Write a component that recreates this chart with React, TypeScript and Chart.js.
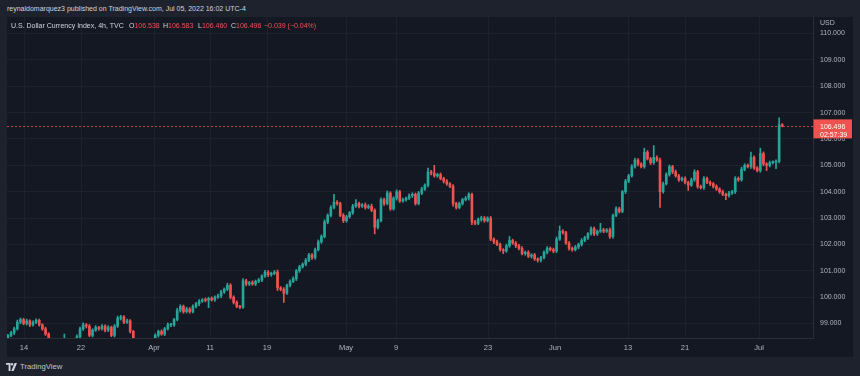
import React, { useEffect, useRef } from 'react';
import { Chart, registerables } from 'chart.js';

Chart.register(...registerables);

// ---------- data ----------
const firstOpen = 98.45;

const closes = [
  98.55, 98.65, 98.80, 99.05, 99.15, 99.00, 99.10, 98.95, 99.05, 99.12,
  98.95, 98.80, 98.60, 98.40, 98.15, 97.95, 97.80, 97.90, 98.20, 98.10,
  98.00, 98.20, 98.50, 98.80, 98.95, 98.90, 98.55, 98.75, 98.85, 98.80,
  98.90, 98.75, 98.85, 98.55, 98.90, 99.20, 99.25, 99.05, 99.10, 98.70,
  98.30, 98.00, 97.80, 97.75, 97.90, 98.10, 98.30, 98.55, 98.70, 98.60,
  98.80, 98.95, 98.95, 99.15, 99.50, 99.65, 99.45, 99.55, 99.45, 99.65,
  99.75, 99.85, 99.90, 99.88, 99.95, 99.90, 100.00, 100.05, 100.20, 100.30,
  100.45, 100.00, 99.80, 99.65, 99.62, 100.62, 100.50, 100.55, 100.50, 100.60,
  100.65, 100.80, 100.95, 100.85, 100.90, 100.95, 100.35, 100.30, 100.15, 100.45,
  100.60, 100.70, 101.00, 101.15, 101.25, 101.40, 101.60, 101.50, 101.80, 102.10,
  102.30, 102.85, 103.10, 103.40, 103.60, 103.55, 103.10, 102.90, 103.05, 103.20,
  103.45, 103.55, 103.45, 103.50, 103.40, 103.45, 103.30, 102.65, 102.90, 103.70,
  103.55, 103.95, 103.35, 103.75, 104.00, 103.65, 103.70, 103.75, 103.85, 103.90,
  103.55, 103.95, 104.10, 104.25, 104.75, 104.70, 104.60, 104.65, 104.50, 104.40,
  104.30, 104.20, 103.55, 103.40, 103.55, 103.70, 103.75, 103.90, 102.85, 102.80,
  102.95, 103.00, 102.90, 103.00, 102.20, 102.10, 102.00, 101.80, 101.75, 101.95,
  102.15, 102.05, 101.95, 101.85, 101.65, 101.70, 101.55, 101.60, 101.45, 101.40,
  101.50, 101.70, 101.85, 101.80, 101.75, 102.20, 102.50, 102.45, 102.05, 101.85,
  101.80, 101.90, 102.00, 102.15, 102.25, 102.40, 102.60, 102.40, 102.50, 102.55,
  102.50, 102.55, 102.30, 103.10, 103.35, 103.25, 104.00, 104.40, 104.60, 104.95,
  105.20, 105.05, 104.95, 105.50, 105.25, 105.10, 105.30, 105.20, 104.00, 104.30,
  104.65, 104.95, 104.75, 104.60, 104.45, 104.50, 104.35, 104.25, 104.45, 104.75,
  104.20, 104.15, 104.50, 104.35, 104.30, 104.20, 104.10, 104.00, 103.90, 103.85,
  103.95, 104.00, 104.50, 104.45, 104.85, 105.00, 104.95, 105.30, 104.90, 104.80,
  105.45, 105.05, 105.00, 105.10, 105.12, 105.15, 106.538, 106.496,
];

const upperWicks = [
  .04, .05, .06, .08, .06, .05, .07, .04, .05, .06,
  .05, .04, .06, .05, .04, .06, .05, .07, .40, .05,
  .06, .05, .07, .06, .08, .05, .06, .05, .07, .04,
  .06, .05, .07, .05, .06, .08, .06, .05, .07, .05,
  .04, .06, .05, .04, .06, .05, .07, .06, .05, .06,
  .05, .07, .06, .05, .08, .06, .05, .07, .05, .06,
  .05, .06, .04, .07, .05, .06, .05, .07, .06, .05,
  .08, .06, .05, .06, .04, .08, .06, .05, .07, .05,
  .06, .05, .07, .06, .05, .06, .08, .05, .06, .05,
  .06, .07, .05, .06, .05, .07, .06, .05, .06, .07,
  .06, .08, .06, .07, .30, .06, .05, .07, .06, .05,
  .07, .15, .06, .05, .07, .06, .08, .05, .06, .07,
  .06, .08, .05, .06, .07, .05, .06, .05, .07, .06,
  .05, .06, .07, .05, .15, .06, .30, .05, .06, .05,
  .06, .05, .07, .05, .06, .05, .07, .06, .05, .06,
  .05, .07, .06, .05, .06, .05, .06, .05, .04, .06,
  .15, .05, .06, .05, .07, .05, .06, .05, .06, .04,
  .05, .06, .07, .05, .06, .08, .20, .06, .05, .06,
  .05, .06, .05, .07, .06, .05, .07, .06, .05, .25,
  .06, .05, .07, .05, .08, .06, .05, .07, .06, .08,
  .07, .06, .05, .15, .06, .05, .45, .06, .07, .06,
  .07, .06, .05, .07, .06, .05, .06, .05, .07, .08,
  .06, .05, .07, .05, .06, .05, .06, .05, .06, .05,
  .06, .05, .07, .06, .08, .06, .05, .20, .06, .05,
  .20, .06, .05, .06, .05, .06, .26, .045,
];

const lowerWicks = [
  .06, .05, .07, .05, .06, .05, .06, .07, .05, .06,
  .05, .06, .05, .07, .06, .05, .06, .05, .06, .05,
  .07, .05, .06, .05, .06, .07, .05, .06, .05, .06,
  .05, .07, .06, .05, .06, .05, .07, .06, .05, .06,
  .06, .05, .07, .06, .05, .06, .05, .07, .06, .05,
  .06, .05, .07, .06, .05, .07, .06, .05, .06, .05,
  .06, .07, .05, .06, .28, .05, .06, .05, .07, .06,
  .05, .07, .06, .05, .06, .05, .07, .06, .05, .06,
  .05, .06, .05, .07, .06, .05, .10, .06, .35, .05,
  .06, .05, .07, .06, .05, .06, .05, .07, .06, .05,
  .06, .05, .07, .06, .05, .06, .05, .07, .06, .05,
  .06, .05, .07, .05, .06, .05, .06, .25, .06, .05,
  .07, .05, .06, .05, .07, .06, .05, .06, .05, .07,
  .06, .05, .06, .05, .07, .06, .05, .06, .05, .07,
  .06, .05, .10, .06, .05, .06, .05, .07, .10, .06,
  .05, .07, .06, .05, .06, .07, .05, .06, .10, .05,
  .06, .05, .07, .06, .05, .06, .05, .07, .06, .07,
  .06, .05, .06, .05, .07, .06, .05, .06, .05, .07,
  .06, .05, .07, .06, .05, .06, .05, .07, .06, .05,
  .06, .05, .07, .06, .05, .06, .05, .07, .06, .05,
  .06, .07, .05, .06, .05, .07, .06, .05, .60, .06,
  .05, .06, .07, .05, .06, .05, .06, .20, .05, .06,
  .07, .05, .06, .05, .07, .06, .05, .06, .05, .15,
  .06, .05, .07, .06, .05, .06, .05, .07, .06, .05,
  .06, .07, .20, .06, .05, .25, .06, .036,
];

// time-axis labels and their positions (in candle index units)
const timeTickPositions = [5.14, 23.32, 46.6, 64.47, 82.65, 107.85, 123.79, 153.14, 174.51, 197.8, 215.98, 239.58];
const timeTickLabels = ['14', '22', 'Apr', '11', '19', 'May', '9', '23', 'Jun', '13', '21', 'Jul'];

const priceTicks = [99, 100, 101, 102, 103, 104, 105, 106, 107, 108, 109, 110];
const currencyLabel = 'USD';

const lastPrice = 106.496;
const countdown = '02:57:39';

const headerText = 'reynaldomarquez3 published on TradingView.com, Jul 05, 2022 16:02 UTC-4';
const symbolText = 'U.S. Dollar Currency Index, 4h, TVC';
const ohlcLabels = ['O', 'H', 'L', 'C'];
const ohlcValues = ['106.538', '106.583', '106.460', '106.496'];
const changeText = '\u22120.039 (\u22120.04%)';

// ---------- styles ----------
const UP = '#26a69a';
const DOWN = '#ef5350';
const FONT = '"Liberation Sans", Arial, sans-serif';
const PAGE_BG = '#1e222d';
const PANEL_BG = '#141823';
const GRID = '#1d212c';
const BORDER = '#2a2e39';
const AXIS_TEXT = '#b2b5be';
const TEXT = '#d1d4dc';

const lastPricePlugin = {
  id: 'lastPrice',
  afterDatasetsDraw(chart: any) {
    const { ctx, chartArea, scales } = chart;
    const y = Math.round(scales.y.getPixelForValue(lastPrice)) + 0.5;
    ctx.save();
    ctx.strokeStyle = 'rgba(239,83,80,0.75)';
    ctx.lineWidth = 1;
    ctx.setLineDash([2, 2]);
    ctx.beginPath();
    ctx.moveTo(chartArea.left, y);
    ctx.lineTo(chartArea.right, y);
    ctx.stroke();
    ctx.restore();
  },
  afterDraw(chart: any) {
    const { ctx, chartArea, scales, width } = chart;
    const y = scales.y.getPixelForValue(lastPrice);
    const x0 = chartArea.right + 0.5;
    const x1 = width - 1;
    ctx.save();
    ctx.fillStyle = '#ef5350';
    ctx.fillRect(x0, y - 6.5, x1 - x0, 19);
    ctx.fillStyle = '#ffffff';
    ctx.font = `7px ${FONT}`;
    ctx.textBaseline = 'middle';
    ctx.textAlign = 'left';
    ctx.fillText(lastPrice.toFixed(3), chartArea.right + 7, y + 1);
    ctx.fillText(countdown, chartArea.right + 7, y + 9);
    ctx.fillStyle = AXIS_TEXT;
    ctx.fillText(currencyLabel, chartArea.right + 7, 6.5);
    ctx.restore();
  },
};

export default function App() {
  const canvasRef = useRef<HTMLCanvasElement>(null);

  useEffect(() => {
    document.body.style.margin = '0';
    document.body.style.background = PAGE_BG;
    const canvas = canvasRef.current;
    if (!canvas) return;

    const opens = closes.map((c, i) => (i === 0 ? firstOpen : closes[i - 1]));
    const colors = closes.map((c, i) => (c >= opens[i] ? UP : DOWN));
    const bodies = closes.map((c, i) => ({ x: i, y: [opens[i], c] }));
    const wicks = closes.map((c, i) => ({
      x: i,
      y: [Math.min(opens[i], c) - lowerWicks[i], Math.max(opens[i], c) + upperWicks[i]],
    }));

    const chart = new Chart(canvas, {
      type: 'bar',
      data: {
        datasets: [
          {
            data: wicks as any,
            backgroundColor: colors,
            barThickness: 1,
            grouped: false,
            clip: 0,
            order: 2,
          } as any,
          {
            data: bodies as any,
            backgroundColor: colors,
            barThickness: 2,
            minBarLength: 1,
            grouped: false,
            clip: 0,
            order: 1,
          } as any,
        ],
      },
      options: {
        responsive: false,
        maintainAspectRatio: false,
        animation: false,
        devicePixelRatio: 1,
        layout: { padding: 0 },
        plugins: { legend: { display: false }, tooltip: { enabled: false } },
        scales: {
          x: {
            type: 'linear',
            min: -0.29,
            max: 256.8,
            offset: false,
            grid: { color: GRID, drawTicks: false, offset: false },
            border: { display: true, color: BORDER },
            ticks: {
              color: AXIS_TEXT,
              font: { family: FONT, size: 7.5 },
              padding: 5,
              autoSkip: false,
              maxRotation: 0,
              callback: (v: any) => {
                const idx = timeTickPositions.indexOf(Number(v));
                return idx >= 0 ? timeTickLabels[idx] : '';
              },
            },
            afterBuildTicks: (s: any) => {
              s.ticks = timeTickPositions.map((v) => ({ value: v }));
            },
            afterFit: (s: any) => {
              s.height = 19;
              s.paddingLeft = 0;
              s.paddingRight = 0;
            },
          },
          y: {
            type: 'linear',
            position: 'right',
            min: 98.45,
            max: 110.626,
            grid: { color: GRID, drawTicks: false },
            border: { display: true, color: BORDER },
            ticks: {
              color: AXIS_TEXT,
              font: { family: FONT, size: 7 },
              padding: 7,
              callback: (v: any) => Number(v).toFixed(3),
            },
            afterBuildTicks: (s: any) => {
              s.ticks = priceTicks.map((v) => ({ value: v }));
            },
            afterFit: (s: any) => {
              s.width = 40;
              s.paddingTop = 0;
              s.paddingBottom = 0;
            },
          },
        },
      } as any,
      plugins: [lastPricePlugin],
    });

    return () => chart.destroy();
  }, []);

  const textBase: React.CSSProperties = {
    position: 'absolute',
    fontFamily: FONT,
    fontSize: '7px',
    lineHeight: '9px',
    whiteSpace: 'nowrap',
  };
  const ohlcX = [129, 163, 198, 231];

  return (
    <div style={{ position: 'relative', width: 860, height: 376, background: PAGE_BG, overflow: 'hidden' }}>
      <div style={{ ...textBase, left: 7, top: 4, color: TEXT }}>{headerText}</div>
      <div style={{ position: 'absolute', left: 7, top: 17, width: 846, height: 340, background: PANEL_BG }}>
        <canvas ref={canvasRef} width={846} height={340} style={{ width: 846, height: 340, display: 'block' }} />
      </div>
      <div style={{ ...textBase, left: 11, top: 21, color: TEXT }}>{symbolText}</div>
      {ohlcLabels.map((l, i) => (
        <div key={l} style={{ ...textBase, left: ohlcX[i], top: 21, color: TEXT }}>
          {l}
          <span style={{ color: DOWN }}>{ohlcValues[i]}</span>
        </div>
      ))}
      <div style={{ ...textBase, left: 264, top: 21, color: DOWN }}>{changeText}</div>
      <div style={{ position: 'absolute', left: 6, top: 362, display: 'flex', alignItems: 'center' }}>
        <svg width="12" height="8" viewBox="0 0 12 8" style={{ display: 'block' }}>
          <path d="M0 0 H4.5 V8 H2.6 V1.8 H0 Z" fill="#d1d4dc" />
          <circle cx="6" cy="1.2" r="1.2" fill="#d1d4dc" />
          <path d="M8.6 0 H11 L7.6 8 H5.3 Z" fill="#d1d4dc" />
        </svg>
        <span style={{ fontFamily: FONT, fontSize: '7.7px', color: '#c3c6ce', marginLeft: 2 }}>TradingView</span>
      </div>
    </div>
  );
}
